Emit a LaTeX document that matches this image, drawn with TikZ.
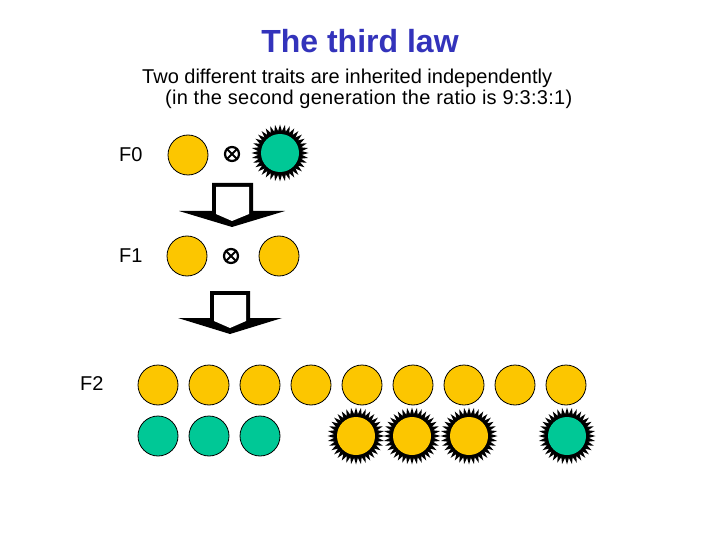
\documentclass[tikz,border=0pt]{standalone}
\usepackage{fontspec}
\setmainfont{Liberation Sans}
\usetikzlibrary{shapes.geometric}
\definecolor{titleblue}{RGB}{51,51,187}
\definecolor{pyellow}{RGB}{252,198,0}
\definecolor{pgreen}{RGB}{0,200,150}
\tikzset{
  pea/.style={circle, draw=black, line width=0.8pt, inner sep=0, minimum size=40pt},
  spikes/.style={star, star points=36, star point ratio=1.3, inner sep=0, minimum size=57pt, fill=black},
  core/.style={circle, inner sep=0, minimum size=38pt},
  cross/.style={circle, draw=black, line width=2.2pt, inner sep=0, minimum size=14pt},
  lbl/.style={inner sep=0, font=\fontsize{20}{24}\selectfont},
}
\newcommand{\wrinkled}[4]{%
  \node[spikes] at (#2,#3) {};
  \node[core, fill=#4] (#1) at (#2,#3) {};
}
\newcommand{\crossmark}[3]{%
  \node[cross] (#1) at (#2,#3) {};
  \draw[line width=2pt] (#1.45) -- (#1.225) (#1.135) -- (#1.315);
}
\begin{document}
\begin{tikzpicture}[x=1pt, y=-1pt]
\useasboundingbox (0,0) rectangle (720,540);
% title
\node[inner sep=0, anchor=base, text=titleblue, font=\fontsize{32}{38}\selectfont\bfseries] (title) at (360,53) {The third law};
\node[lbl, anchor=base west] (sub1) at (142,84) {Two different traits are inherited independently};
\node[lbl, anchor=base west] (sub2) at (165,105) {\addfontfeature{LetterSpace=1.3}(in the second generation the ratio is 9:3:3:1)};
% generation labels
\node[lbl, anchor=west] (f0) at (119,155) {F0};
\node[lbl, anchor=west] (f1) at (119,256) {F1};
\node[lbl, anchor=west] (f2) at (80,384) {F2};
% F0
\node[pea, fill=pyellow] (p0a) at (188,155) {};
\crossmark{x0}{232}{154}
\wrinkled{p0b}{280}{153}{pgreen}
% arrow 1
\fill[black] (212,183) -- (253,183) -- (253,211) -- (285,211) -- (232,227) -- (179,211) -- (212,211) -- cycle;
\fill[white] (216,187) -- (249,187) -- (249,214) -- (232,221) -- (216,214) -- cycle;
% F1
\node[pea, fill=pyellow] (p1a) at (187,256) {};
\crossmark{x1}{231}{256}
\node[pea, fill=pyellow] (p1b) at (279,256) {};
% arrow 2
\fill[black] (210,291) -- (250,291) -- (250,318) -- (282,318) -- (230,334) -- (178,318) -- (210,318) -- cycle;
\fill[white] (214,295) -- (246,295) -- (246,321) -- (230,328) -- (214,321) -- cycle;
% F2 row 1
\foreach \i in {0,...,8} {
  \node[pea, fill=pyellow] (r1\i) at (158+51*\i,385) {};
}
% F2 row 2
\foreach \i in {0,1,2} {
  \node[pea, fill=pgreen] (r2\i) at (158+51*\i,436) {};
}
\wrinkled{w1}{356}{436}{pyellow}
\wrinkled{w2}{412}{436}{pyellow}
\wrinkled{w3}{469}{436}{pyellow}
\wrinkled{w4}{567}{436}{pgreen}
\end{tikzpicture}
\end{document}
